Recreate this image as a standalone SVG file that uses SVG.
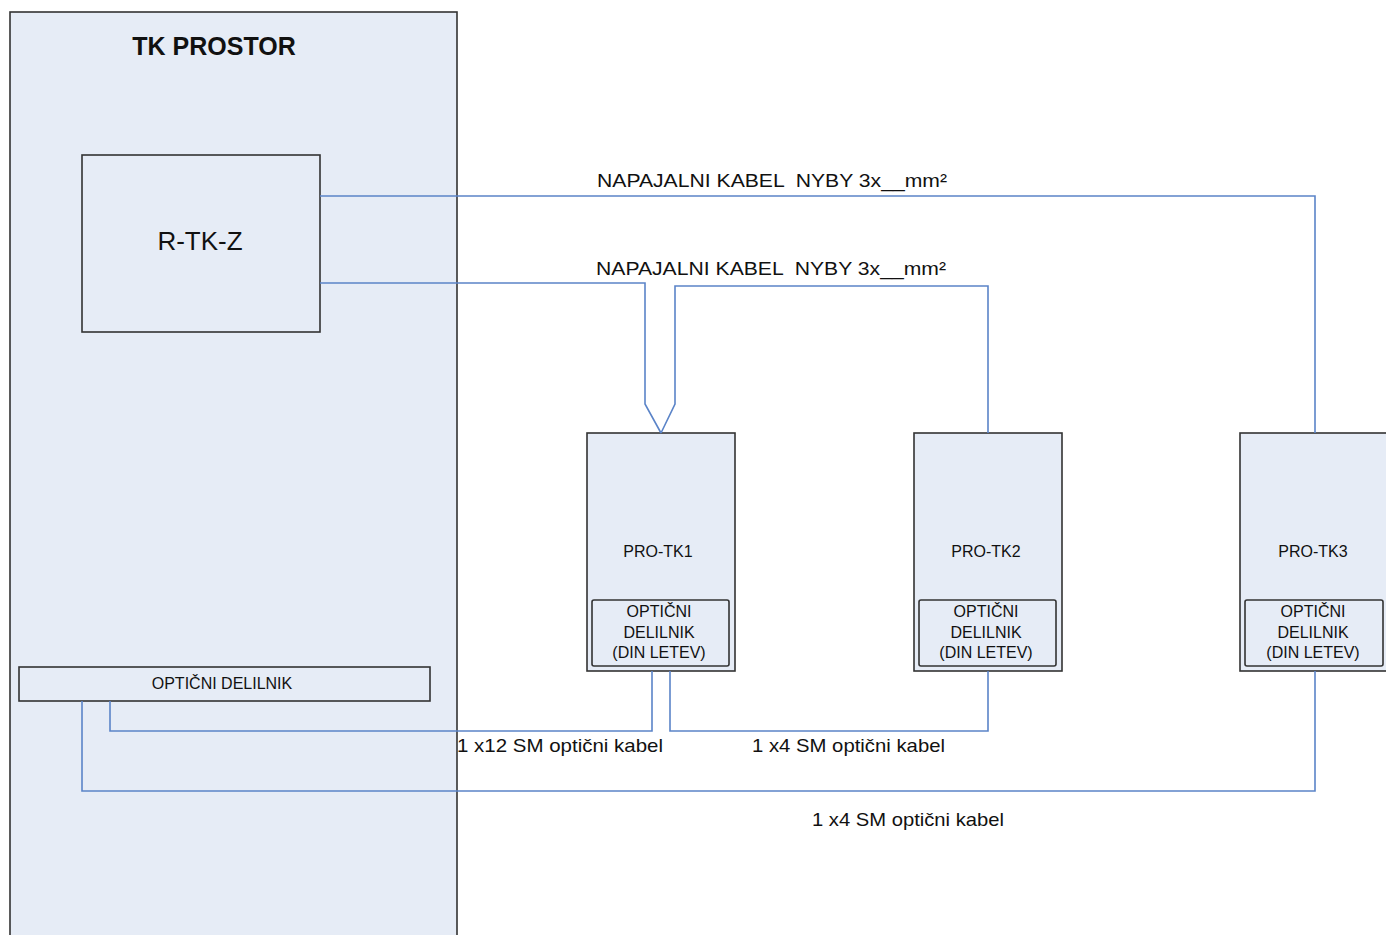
<svg xmlns="http://www.w3.org/2000/svg" width="1386" height="935" viewBox="0 0 1386 935">
<style>
.box{fill:#e6ecf6;stroke:#333;stroke-width:1.6}
.sub{fill:#e6ecf6;stroke:#333;stroke-width:1.6}
.wire{fill:none;stroke:#5b84c8;stroke-width:1.6}
text{font-family:"Liberation Sans",Arial,sans-serif;fill:#111}
.lbl{font-size:16px;text-anchor:middle}
.cab{font-size:19px;white-space:pre}
</style>
<rect width="1386" height="935" fill="#fff"/>
<g id="tk-prostor">
<rect class="box" x="10" y="12" width="447" height="930"/>
<text x="214" y="55" font-size="25" font-weight="bold" text-anchor="middle">TK PROSTOR</text>
</g>
<g id="r-tk-z">
<rect class="box" x="82" y="155" width="238" height="177"/>
<text x="200" y="250" font-size="26" text-anchor="middle">R-TK-Z</text>
</g>
<g id="opticni-delilnik">
<rect class="box" x="19" y="667" width="411" height="34"/>
<text class="lbl" x="222" y="689">OPTIČNI DELILNIK</text>
</g>
<g id="pro-tk1">
<rect class="box" x="587" y="433" width="148" height="238"/>
<text class="lbl" x="658" y="557">PRO-TK1</text>
<rect class="sub" x="592" y="600" width="137" height="66" rx="2"/>
<text class="lbl" x="659" y="617">OPTIČNI</text>
<text class="lbl" x="659" y="638">DELILNIK</text>
<text class="lbl" x="659" y="658">(DIN LETEV)</text>
</g>
<g id="pro-tk2">
<rect class="box" x="914" y="433" width="148" height="238"/>
<text class="lbl" x="986" y="557">PRO-TK2</text>
<rect class="sub" x="919" y="600" width="137" height="66" rx="2"/>
<text class="lbl" x="986" y="617">OPTIČNI</text>
<text class="lbl" x="986" y="638">DELILNIK</text>
<text class="lbl" x="986" y="658">(DIN LETEV)</text>
</g>
<g id="pro-tk3">
<rect class="box" x="1240" y="433" width="150" height="238"/>
<text class="lbl" x="1313" y="557">PRO-TK3</text>
<rect class="sub" x="1245" y="600" width="138" height="66" rx="2"/>
<text class="lbl" x="1313" y="617">OPTIČNI</text>
<text class="lbl" x="1313" y="638">DELILNIK</text>
<text class="lbl" x="1313" y="658">(DIN LETEV)</text>
</g>
<g id="connectors">
<polyline class="wire" points="320,196 1315,196 1315,433"/>
<polyline class="wire" points="320,283 645,283 645,404 661,433"/>
<polyline class="wire" points="988,433 988,286 675,286 675,404 661,433"/>
<polyline class="wire" points="110,701 110,731 652,731 652,671"/>
<polyline class="wire" points="670,671 670,731 988,731 988,671"/>
<polyline class="wire" points="82,701 82,791 1315,791 1315,671"/>
</g>
<g id="labels">
<text class="cab" x="597" y="187" textLength="350" lengthAdjust="spacingAndGlyphs">NAPAJALNI KABEL  NYBY 3x__mm²</text>
<text class="cab" x="596" y="275" textLength="350" lengthAdjust="spacingAndGlyphs">NAPAJALNI KABEL  NYBY 3x__mm²</text>
<text class="cab" x="457" y="752" textLength="206" lengthAdjust="spacingAndGlyphs">1 x12 SM optični kabel</text>
<text class="cab" x="752" y="752" textLength="193" lengthAdjust="spacingAndGlyphs">1 x4 SM optični kabel</text>
<text class="cab" x="812" y="826" textLength="192" lengthAdjust="spacingAndGlyphs">1 x4 SM optični kabel</text>
</g>
</svg>
